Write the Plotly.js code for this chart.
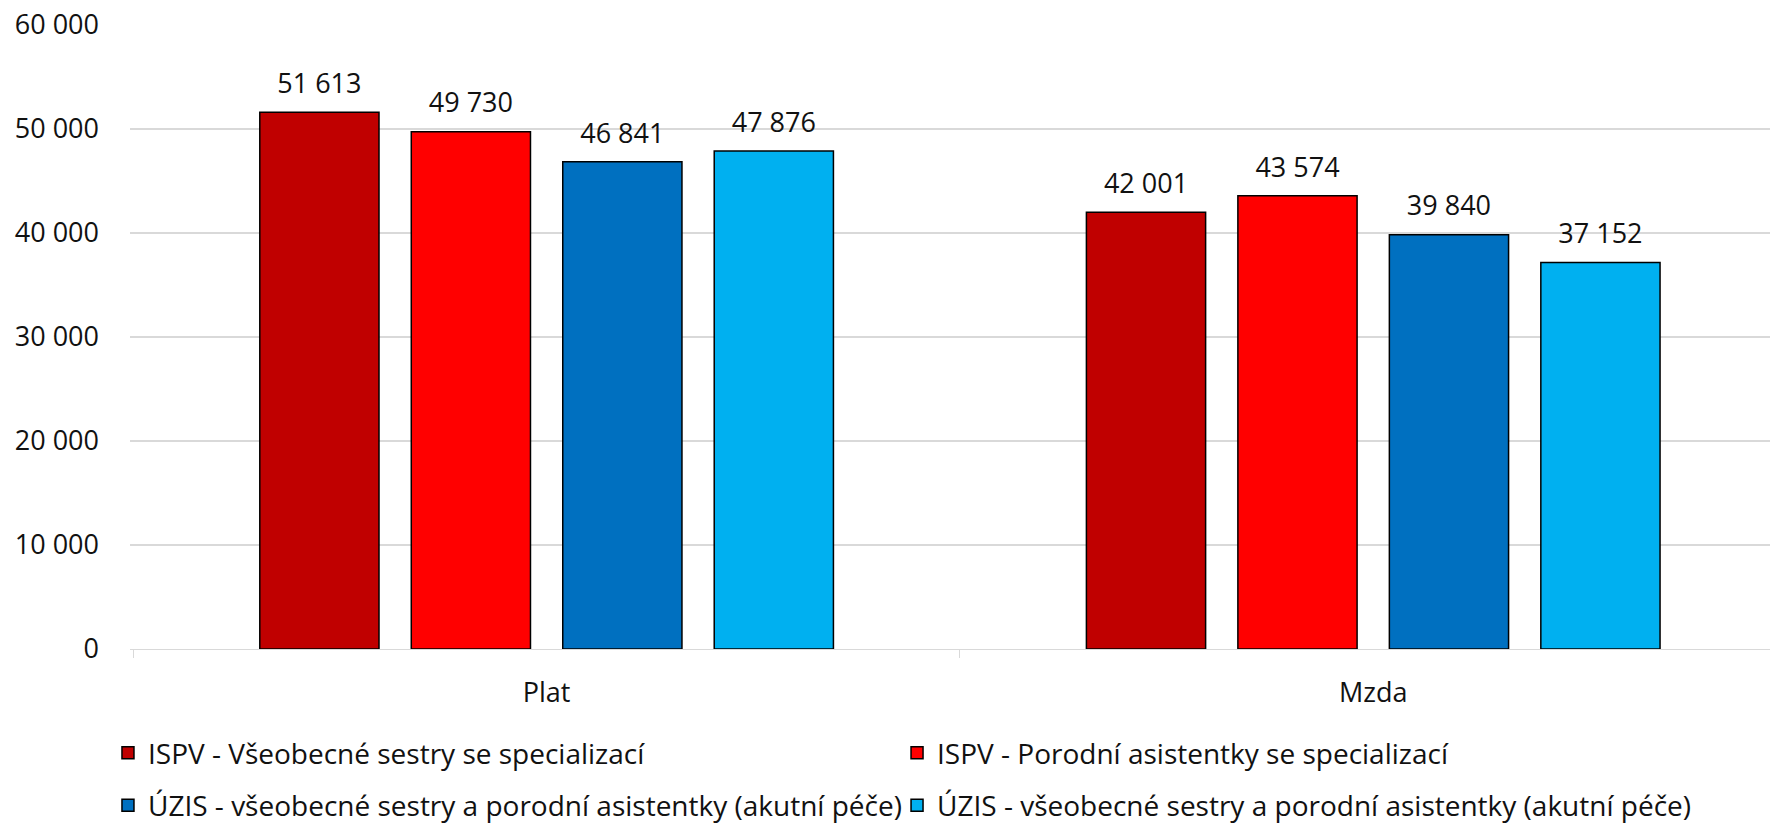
<!DOCTYPE html>
<html>
<head>
<meta charset="utf-8">
<script src="https://cdn.plot.ly/plotly-3.0.1.min.js"></script>
<style>html,body{margin:0;padding:0;background:#fff;}#chart{width:1770px;height:824px;}</style>
</head>
<body>
<div id="chart"></div>
<script>
const categories = ["Plat", "Mzda"];
const seriesNames = [
  "ISPV - Všeobecné sestry se specializací",
  "ISPV - Porodní asistentky se specializací",
  "ÚZIS - všeobecné sestry a porodní asistentky (akutní péče)",
  "ÚZIS - všeobecné sestry a porodní asistentky (akutní péče)"
];
const ispvSestry = [51613, 42001];
const ispvAsistentky = [49730, 43574];
const uzisAkutni1 = [46841, 39840];
const uzisAkutni2 = [47876, 37152];
const colors = ["#C00000", "#FF0000", "#0070C0", "#00B0F0"];
const legendIds = ["legend", "legend2", "legend3", "legend4"];

const FONT = "'Open Sans', 'Liberation Sans', sans-serif";
const TXT = "#111";
const NUM_SIZE = 27;
const seriesValues = [ispvSestry, ispvAsistentky, uzisAkutni1, uzisAkutni2];

const barTraces = seriesValues.map((vals, i) => ({
  type: "bar",
  name: seriesNames[i],
  x: categories,
  y: vals,
  legend: legendIds[i],
  marker: { color: colors[i], line: { color: "#000", width: 1.5 } },
  textposition: "none",
  hoverinfo: "skip"
}));

// value labels: grouped scatter text placed above each bar
const labelTraces = seriesValues.map((vals, i) => ({
  type: "scatter",
  mode: "markers+text",
  x: categories,
  y: vals,
  texttemplate: "%{y:,d}",
  textposition: "top center",
  textfont: { family: FONT, size: NUM_SIZE, color: TXT },
  marker: { size: 18.5, color: "rgba(0,0,0,0)" },
  showlegend: false,
  cliponaxis: false,
  hoverinfo: "skip"
}));

const legendBase = {
  orientation: "h",
  xref: "container", yref: "container",
  xanchor: "left",
  yanchor: "middle",
  font: { family: FONT, size: 28, color: TXT },
  bgcolor: "rgba(0,0,0,0)"
};
const colX = [0.061, 0.5068];
const rowY = [0.0862, 0.0225];

const layout = {
  width: 1770,
  height: 824,
  margin: { l: 130, r: 0, t: 25, b: 175 },
  paper_bgcolor: "#fff",
  plot_bgcolor: "#fff",
  separators: ", ",
  font: { family: FONT, size: NUM_SIZE, color: TXT },
  barmode: "group",
  bargap: 0.267,
  bargroupgap: 0.213,
  scattermode: "group",
  scattergap: 0.267,
  showlegend: true,
  xaxis: {
    type: "category",
    range: [-0.504, 1.48],
    showline: true,
    linecolor: "#D9D9D9",
    linewidth: 1,
    ticks: "outside",
    tickson: "boundaries",
    ticklen: 8,
    tickcolor: "#D9D9D9",
    ticklabelstandoff: 20,
    showgrid: false,
    tickfont: { family: FONT, size: NUM_SIZE, color: TXT }
  },
  yaxis: {
    range: [0, 60000],
    dtick: 10000,
    tick0: 0,
    tickformat: ",d",
    showgrid: true,
    gridcolor: "#D9D9D9",
    gridwidth: 1.3,
    zeroline: false,
    showline: false,
    ticks: "",
    ticklabelstandoff: 30,
    tickfont: { family: FONT, size: NUM_SIZE, color: TXT }
  },
  legend: Object.assign({}, legendBase, { x: colX[0], y: rowY[0] }),
  legend2: Object.assign({}, legendBase, { x: colX[1], y: rowY[0] }),
  legend3: Object.assign({}, legendBase, { x: colX[0], y: rowY[1] }),
  legend4: Object.assign({}, legendBase, { x: colX[1], y: rowY[1] })
};

Plotly.newPlot("chart", barTraces.concat(labelTraces), layout, { staticPlot: true, displayModeBar: false });
</script>
</body>
</html>
